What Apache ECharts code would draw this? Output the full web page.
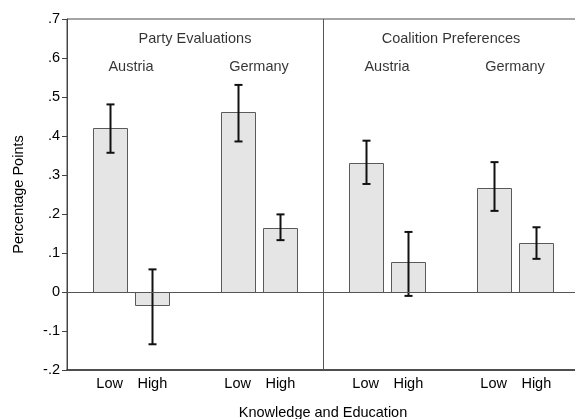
<!DOCTYPE html>
<html>
<head>
<meta charset="utf-8">
<script src="https://cdn.jsdelivr.net/npm/echarts@6/dist/echarts.min.js"></script>
<style>html,body{margin:0;padding:0;background:#fff}#c{width:575px;height:419px}</style>
</head>
<body>
<div id="c"></div>
<script>
// ---- data ----
const barPositions = [1, 2, 4, 5, 7, 8, 10, 11];
const levelLabels = ['Low', 'High', 'Low', 'High', 'Low', 'High', 'Low', 'High'];
const estimates = [0.420, -0.034, 0.461, 0.164, 0.331, 0.077, 0.266, 0.126];
const ciLower = [0.357, -0.134, 0.386, 0.133, 0.277, -0.010, 0.208, 0.085];
const ciUpper = [0.481, 0.058, 0.531, 0.199, 0.388, 0.154, 0.333, 0.166];
const panelTitles = ['Party Evaluations', 'Coalition Preferences'];
const panelCenters = [3, 9];
const countryNames = ['Austria', 'Germany', 'Austria', 'Germany'];
const countryCenters = [1.5, 4.5, 7.5, 10.5];
const yTicks = [-0.2, -0.1, 0, 0.1, 0.2, 0.3, 0.4, 0.5, 0.6, 0.7];
const panelDivider = 6;

const FONT = 'Liberation Sans, Arial, Helvetica, sans-serif';
const TXT = '#000';
const FS = 14.5;

const chart = echarts.init(document.getElementById('c'), null, {renderer: 'canvas'});

const barData = barPositions.map((x, i) => [x, estimates[i], ciLower[i], ciUpper[i]]);

function fmtY(v) {
  const r = Math.round(v * 10) / 10;
  if (r === 0) return '0';
  let s = r.toFixed(1);
  return s.replace('0.', '.');
}

chart.setOption({
  animation: false,
  grid: {left: 67, right: -4, top: 19, bottom: 49, show: true, borderColor: '#4a4a4a', borderWidth: 1,
         containLabel: false, outerBoundsMode: 'none'},
  xAxis: {
    type: 'value', min: 0, max: 12, interval: 1,
    axisLine: {show: true, onZero: false, lineStyle: {color: '#333', width: 1.5}},
    axisTick: {show: false},
    splitLine: {show: false},
    axisLabel: {
      fontFamily: FONT, fontSize: FS, color: TXT, margin: 6,
      formatter: v => { const i = barPositions.indexOf(v); return i >= 0 ? levelLabels[i] : ''; }
    },
    name: 'Knowledge and Education', nameLocation: 'middle', nameGap: 35,
    nameTextStyle: {fontFamily: FONT, fontSize: FS, color: TXT}
  },
  yAxis: {
    type: 'value', min: -0.2, max: 0.7, interval: 0.1,
    axisLine: {show: true, onZero: false, lineStyle: {color: '#444', width: 1}},
    axisTick: {show: true, length: 5, lineStyle: {color: '#444'}},
    splitLine: {show: false},
    axisLabel: {fontFamily: FONT, fontSize: FS, color: TXT, margin: 7, formatter: fmtY},
    name: 'Percentage Points', nameLocation: 'middle', nameGap: 41, nameRotate: 90,
    nameTextStyle: {fontFamily: FONT, fontSize: FS, color: TXT}
  },
  series: [
    {
      type: 'custom',
      data: barData,
      renderItem: function (params, api) {
        const x = api.value(0), v = api.value(1), lo = api.value(2), hi = api.value(3);
        const p1 = api.coord([x - 0.4, v]);
        const p2 = api.coord([x + 0.4, 0]);
        const top = Math.min(p1[1], p2[1]);
        const h = Math.abs(p1[1] - p2[1]);
        const cLo = api.coord([x, lo]);
        const cHi = api.coord([x, hi]);
        const cx = Math.round(cLo[0]) + 0.5;
        const cap = 4;
        return {
          type: 'group',
          children: [
            {type: 'rect', shape: {x: Math.round(p1[0]) + 0.5, y: Math.round(top) + 0.5, width: Math.round(p2[0] - p1[0]), height: Math.round(h)},
             style: {fill: '#e5e5e5', stroke: '#5a5a5a', lineWidth: 1}},
            {type: 'line', shape: {x1: cx, y1: cLo[1], x2: cx, y2: cHi[1]}, style: {stroke: '#111', lineWidth: 2}},
            {type: 'line', shape: {x1: cx - cap, y1: cLo[1], x2: cx + cap, y2: cLo[1]}, style: {stroke: '#111', lineWidth: 2}},
            {type: 'line', shape: {x1: cx - cap, y1: cHi[1], x2: cx + cap, y2: cHi[1]}, style: {stroke: '#111', lineWidth: 2}}
          ]
        };
      },
      z: 3
    },
    {
      type: 'scatter',
      symbolSize: 0,
      data: panelCenters.map((x, i) => ({value: [x, 0.65], name: panelTitles[i]})),
      label: {show: true, position: 'inside', formatter: p => p.name, fontFamily: FONT, fontSize: FS, color: TXT},
      silent: true,
      markLine: {
        silent: true, symbol: 'none', label: {show: false},
        lineStyle: {color: '#555', width: 1, type: 'solid'},
        data: [{yAxis: 0}, {xAxis: panelDivider}]
      },
      z: 2
    },
    {
      type: 'scatter',
      symbolSize: 0,
      data: countryCenters.map((x, i) => ({value: [x, 0.578], name: countryNames[i]})),
      label: {show: true, position: 'inside', formatter: p => p.name, fontFamily: FONT, fontSize: FS, color: TXT},
      silent: true
    }
  ]
});
</script>
</body>
</html>
